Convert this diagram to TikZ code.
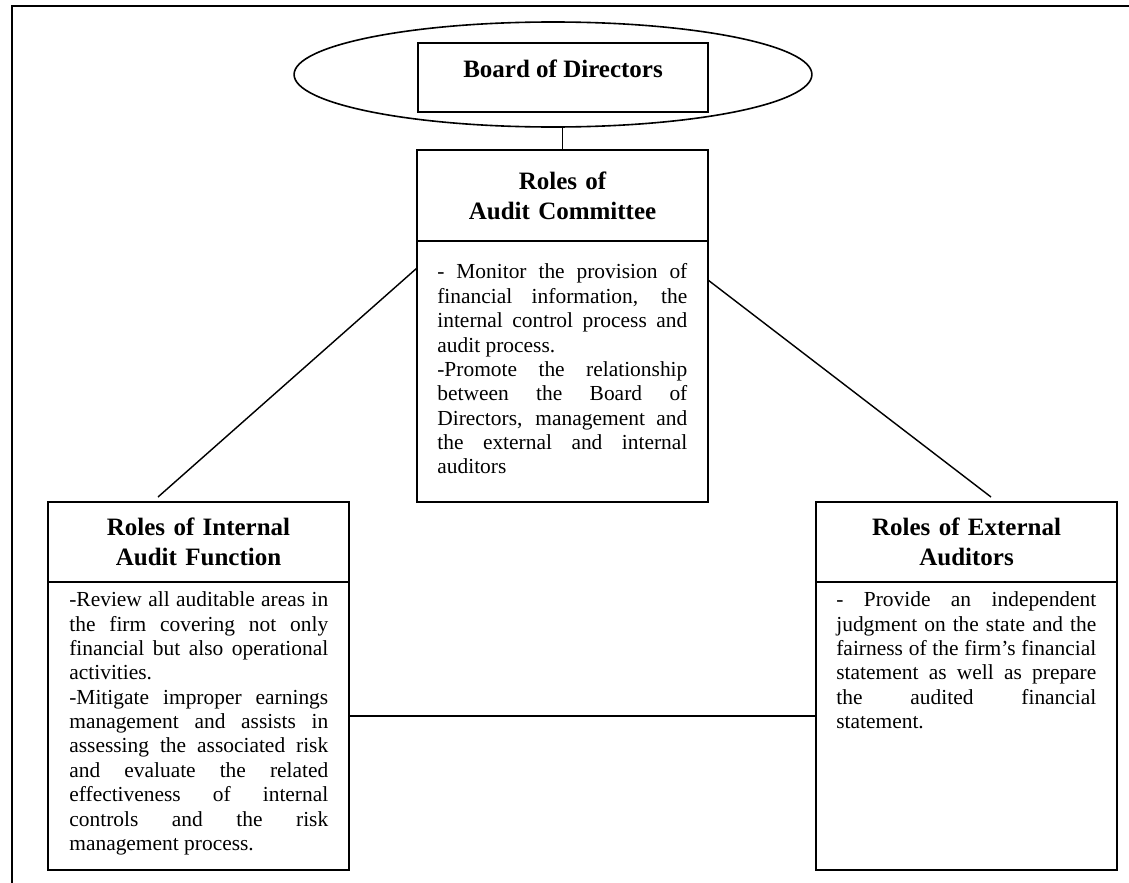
\documentclass[tikz,border=0pt]{standalone}
\usepackage{fontspec}
\setmainfont{Liberation Serif}
\usetikzlibrary{shapes.geometric}
\tikzset{
  box/.style={draw, line width=1pt, rectangle, inner sep=0pt, outer sep=0pt, anchor=north west},
  hd/.style={font=\fontsize{14}{16.8}\selectfont\bfseries, align=center},
  bodytext/.style={inner sep=0pt, anchor=north west, align=justify, text width=#1,
    font=\fontsize{12}{13.66}\selectfont},
  conn/.style={line width=0.8pt},
  frame/.style={line width=1.3pt},
}
\begin{document}
\begin{tikzpicture}[x=0.56pt,y=-0.56pt]
\useasboundingbox (0,0) rectangle (1129,883);
\draw[frame] (12,883) -- (12,6) -- (1129,6);

% Board of Directors
\node[ellipse, draw, line width=0.9pt, minimum width=290pt, minimum height=58.8pt, inner sep=0pt, outer sep=0pt] (bde) at (553,74.5) {};
\node[box, minimum width=162.4pt, minimum height=38.6pt, font=\fontsize{14}{16.8}\selectfont\bfseries, text height=9.5pt, text depth=9pt] (bd) at (418,43) {Board of Directors};

% Audit committee
\node[box, hd, text width=163pt, minimum height=51pt] (acH) at (417,150) {Roles of\\Audit Committee};
\node[box, minimum width=163pt, minimum height=146.2pt] (acB) at (acH.south west) {};
\node[bodytext=140pt] (acT) at (437,263.4) {\noindent - Monitor the provision of\linebreak
financial information, the\linebreak
internal control process and\linebreak
audit process.\newline
-Promote the relationship\linebreak
between the Board of\linebreak
Directors, management and\linebreak
the external and internal\linebreak
auditors};

% Internal audit function
\node[box, hd, text width=168.6pt, minimum height=44.8pt] (iaH) at (48,502) {Roles of Internal\\Audit Function};
\node[box, minimum width=168.6pt, minimum height=161.3pt] (iaB) at (iaH.south west) {};
\node[bodytext=145pt] (iaT) at (69,591.4) {\noindent -Review all auditable areas in\linebreak
the firm covering not only\linebreak
financial but also operational\linebreak
activities.\newline
-Mitigate improper earnings\linebreak
management and assists in\linebreak
assessing the associated risk\linebreak
and evaluate the related\linebreak
effectiveness of internal\linebreak
controls and the risk\linebreak
management process.};

% External auditors
\node[box, hd, text width=168.6pt, minimum height=44.8pt] (eaH) at (816,502) {Roles of External\\Auditors};
\node[box, minimum width=168.6pt, minimum height=161.3pt] (eaB) at (eaH.south west) {};
\node[bodytext=145.6pt] (eaT) at (836,591.4) {\noindent - Provide an independent\linebreak
judgment on the state and the\linebreak
fairness of the firm’s financial\linebreak
statement as well as prepare\linebreak
the audited financial\linebreak
statement.};

% connectors
\draw[conn] (bde.south -| acH.north) -- (acH.north);
\coordinate (lA) at (158,497);
\coordinate (lB) at (417,268);
\draw[conn] (lA) -- (lB);
\coordinate (rA) at (708,280);
\coordinate (rB) at (991,497);
\draw[conn] (rA) -- (rB);
\coordinate (hy) at (0,716);
\draw[conn] (iaB.east |- hy) -- (eaB.west |- hy);
\end{tikzpicture}
\end{document}
